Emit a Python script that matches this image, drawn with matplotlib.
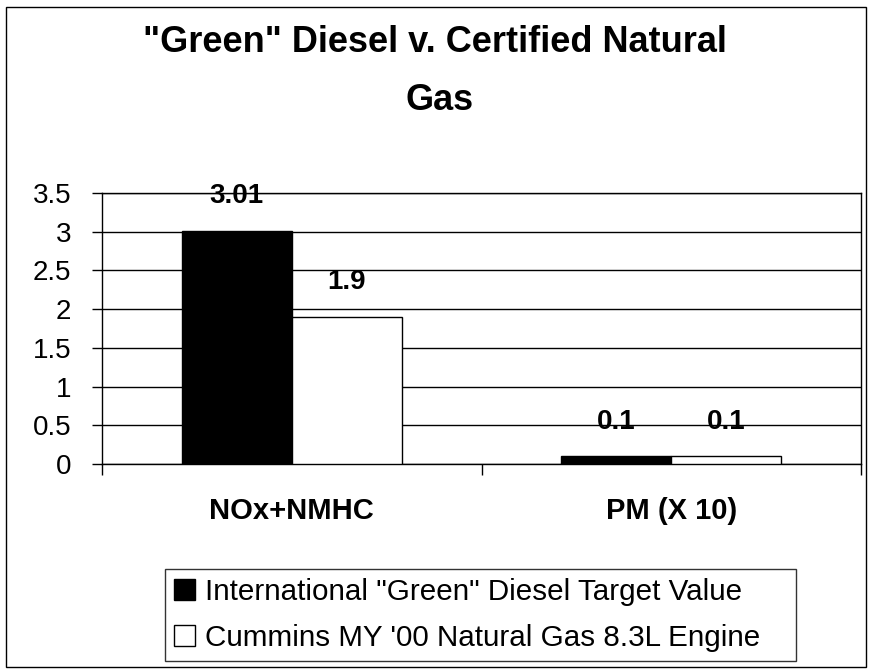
import matplotlib
matplotlib.use("Agg")
import matplotlib.pyplot as plt
from matplotlib.patches import Rectangle
import numpy as np

categories = ["NOx+NMHC", "PM (X 10)"]
series_names = ['International "Green" Diesel Target Value',
                "Cummins MY '00 Natural Gas 8.3L Engine"]
green_diesel = [3.01, 0.1]
natural_gas = [1.9, 0.1]
label_green = ["3.01", "0.1"]
label_gas = ["1.9", "0.1"]
yticks = [0, 0.5, 1, 1.5, 2, 2.5, 3, 3.5]
ytick_labels = ["0", "0.5", "1", "1.5", "2", "2.5", "3", "3.5"]

plt.rcParams['font.family'] = ['Liberation Sans', 'DejaVu Sans']

fig = plt.figure(figsize=(8.69, 6.69), dpi=100)
ax = fig.add_axes([102/869, 205/669, 759/869, 271/669])

x = np.arange(len(categories))
w = 0.29
b1 = ax.bar(x - w/2, green_diesel, w, color="black", edgecolor="black", linewidth=1, label=series_names[0], zorder=3)
b2 = ax.bar(x + w/2, natural_gas, w, color="white", edgecolor="black", linewidth=1, label=series_names[1], zorder=3)

for xi, v, t in zip(x - w/2, green_diesel, label_green):
    ax.annotate(t, (xi, v), xytext=(0, 25), textcoords="offset points",
                ha="center", va="center", fontsize=20, fontweight="bold", zorder=4)
for xi, v, t in zip(x + w/2, natural_gas, label_gas):
    ax.annotate(t, (xi, v), xytext=(0, 25), textcoords="offset points",
                ha="center", va="center", fontsize=20, fontweight="bold", zorder=4)

ax.set_xlim(-0.5, 1.5)
ax.set_ylim(0, 3.5)
ax.set_yticks(yticks)
ax.set_yticklabels(ytick_labels, fontsize=20)
ax.yaxis.grid(True, color="black", linewidth=1, zorder=1)
ax.set_axisbelow(True)
ax.tick_params(axis="y", length=7, width=1, pad=15)

ax.set_xticks(x)
ax.set_xticklabels(categories, fontsize=21, fontweight="bold")
ax.tick_params(axis="x", which="major", length=0, pad=24)
ax.set_xticks([-0.5, 0.5, 1.5], minor=True)
ax.tick_params(axis="x", which="minor", length=8, width=1)

for s in ax.spines.values():
    s.set_color("black")
    s.set_linewidth(1)

leg = fig.legend(handles=[b1, b2], labels=series_names, loc="center",
                 bbox_to_anchor=(165/869, 4/669, 631/869, 100/669), mode="expand",
                 bbox_transform=fig.transFigure,
                 fontsize=21.3, frameon=True, fancybox=False, edgecolor="black",
                 handlelength=0.7, handleheight=0.7, handletextpad=0.35,
                 labelspacing=0.6, borderpad=0.3, borderaxespad=0)
leg.get_frame().set_linewidth(1)

fig.text(0.5, 1 - 43/669, '"Green" Diesel v. Certified Natural', ha="center", va="center",
         fontsize=26, fontweight="bold")
fig.text(440/869, 1 - 101/669, 'Gas', ha="center", va="center",
         fontsize=26, fontweight="bold")

fig.patches.append(Rectangle((6/869, 2/669), 860/869, 660/669, transform=fig.transFigure,
                             fill=False, edgecolor="black", linewidth=1))

fig.savefig("out.png", dpi=100)
